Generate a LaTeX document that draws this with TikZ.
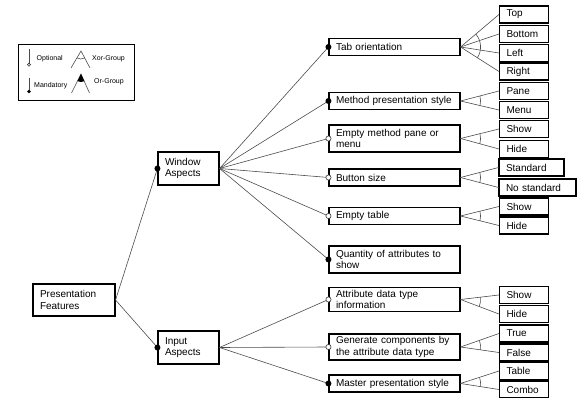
\documentclass[tikz,border=0pt]{standalone}
\usepackage{fontspec}
\setmainfont{Liberation Sans}
\usetikzlibrary{calc}

\begin{document}
\begin{tikzpicture}[x=1pt,y=1pt, font=\fontsize{10}{11.5}\selectfont]
		\tikzset{
			box/.style={draw, line width=1.1pt, align=left, inner xsep=7pt, inner ysep=1pt, minimum height=17pt},
			feat/.style={box, text width=117pt},
			aspect/.style={box, text width=47pt, minimum height=33pt},
			root/.style={box, text width=68pt, minimum height=32pt},
			leaf/.style={box, text width=35pt},
			conn/.style={draw=black!70, line width=0.6pt},
			mand/.style={fill=black},
			opt/.style={draw=black!80, line width=0.6pt, fill=white},
			legtext/.style={font=\fontsize{7}{8}\selectfont, inner sep=0pt, anchor=west},
		}
		\useasboundingbox (0,0) rectangle (577,398);

		% legend
		\draw[line width=0.9pt] (18,298) rectangle (134,354);
		\draw[conn] (29,349) -- (29,335);
		\draw[opt] (29,333.3) circle (1.6);
		\node[legtext] (lopt) at (36.5,339) {Optional};
		\draw[conn] (29,320) -- (29,308);
		\fill (29,306.5) circle (1.8);
		\node[legtext] (lmand) at (34,312) {Mandatory};
		\draw[conn] (71,330) -- (81,347) -- (90,330);
		\draw[conn] (81,347) ++(-120:8) arc[start angle=-120, end angle=-62, radius=8];
		\node[legtext] (lxor) at (92,339) {Xor-Group};
		\draw[conn] (71.5,305) -- (81,324) -- (89.5,305);
		\fill (81,324) -- ++(-117:8) arc[start angle=-117, end angle=-65, radius=8] -- cycle;
		\node[legtext] (lor) at (94,316) {Or-Group};

		% features
		\node[root] (pf) at (74,98) {Presentation\\Features};
		\node[aspect] (wa) at (188.5,229.5) {Window\\Aspects};
		\node[aspect] (ia) at (188.5,50.5) {Input\\Aspects};

		\node[feat] (tab) at (394.5,351) {Tab orientation};
		\node[feat] (mps) at (394.5,297) {Method presentation style};
		\node[feat, minimum height=27pt] (emp) at (394.5,259.5) {Empty method pane or\\menu};
		\node[feat] (bs) at (394.5,220.5) {Button size};
		\node[feat] (et) at (394.5,182) {Empty table};
		\node[feat, minimum height=27pt] (qa) at (394.5,138.5) {Quantity of attributes to\\show};
		\node[feat, minimum height=24pt] (adt) at (394.5,98.5) {Attribute data type\\information};
		\node[feat, minimum height=26pt] (gc) at (394.5,51) {Generate components by\\the attribute data type};
		\node[feat] (mst) at (394.5,14.5) {Master presentation style};

		% leaves
		\foreach \n/\y/\t in {tab1/383.5/Top, tab2/364/Bottom, tab3/345/Left, tab4/326.5/Right,
			mps1/307/Pane, mps2/288/Menu, emp1/269/Show, emp2/249/Hide,
			et1/191.5/Show, et2/172.5/Hide, adt1/103/Show, adt2/84/Hide,
			gc1/64.5/True, gc2/45.5/False, mst1/27/Table, mst2/8.5/Combo}{
			\node[leaf] (\n) at (524,\y) {\t};
		}
		\node[box, text width=51pt] (bs1) at (531.5,230.5) {Standard};
		\node[box, text width=63pt] (bs2) at (537.5,210.5) {No standard};

		% connectors
		\foreach \s/\c in {pf/wa, pf/ia, wa/tab, wa/mps, wa/emp, wa/bs, wa/et, wa/qa,
			ia/adt, ia/gc, ia/mst}{
			\draw[conn] (\s.east) -- (\c.west);
		}
		\foreach \s/\c in {tab/tab1, tab/tab2, tab/tab3, tab/tab4, mps/mps1, mps/mps2,
			emp/emp1, emp/emp2, bs/bs1, bs/bs2, et/et1, et/et2,
			adt/adt1, adt/adt2, gc/gc1, gc/gc2, mst/mst1, mst/mst2}{
			\draw[conn] (\s.east) -- (\c.west);
		}
		\foreach \s/\a/\b in {tab/tab1/tab4, mps/mps1/mps2, emp/emp1/emp2, bs/bs1/bs2,
			et/et1/et2, adt/adt1/adt2, gc/gc1/gc2, mst/mst1/mst2}{
			\draw[conn] let \p1=($(\a.west)-(\s.east)$), \p2=($(\b.west)-(\s.east)$),
				\n1={atan2(\y1,\x1)}, \n2={atan2(\y2,\x2)} in
				($(\s.east)+(\n1:20)$) arc[start angle=\n1, end angle=\n2, radius=20];
		}

		% mandatory / optional marks
		\foreach \c in {wa, ia, tab, mps, qa, mst}{
			\fill[mand] (\c.west) circle (3);
		}
		\foreach \c in {emp, bs, et, adt, gc}{
			\draw[opt] (\c.west) circle (2.6);
		}
\end{tikzpicture}
\end{document}
